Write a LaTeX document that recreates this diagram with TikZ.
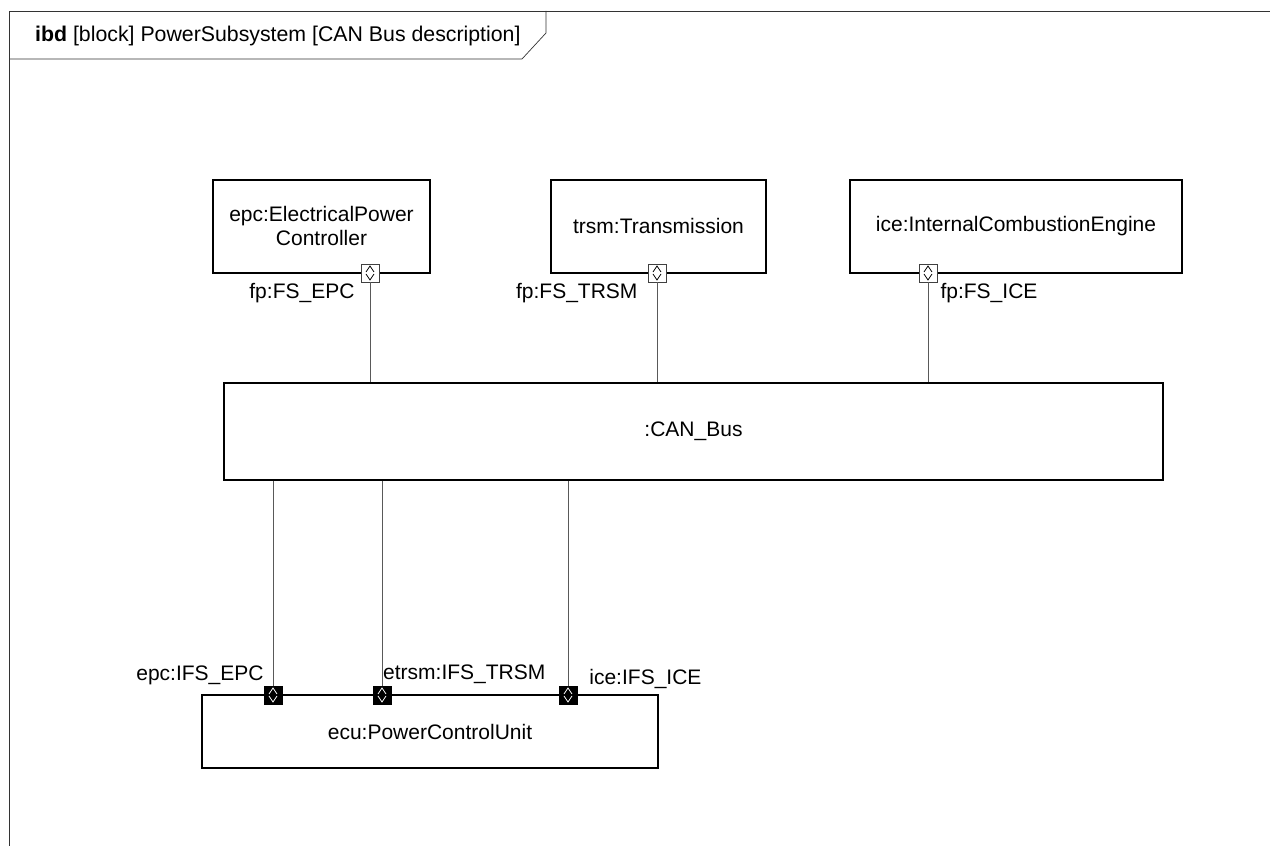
\documentclass[tikz,border=0pt]{standalone}
\usepackage{fontspec}
\setmainfont{Liberation Sans}
\usetikzlibrary{positioning}

\tikzset{
  pchev/.style={path picture={
    \draw[#1,line width=0.8pt] (path picture bounding box.center) ++(-4pt,1pt) -- ++(4pt,6pt) -- ++(4pt,-6pt)
      (path picture bounding box.center) ++(-4pt,-1pt) -- ++(4pt,-6pt) -- ++(4pt,6pt);}},
  fport/.style={draw=black!75,fill=white,line width=0.7pt,minimum size=18pt,inner sep=0pt,pchev=black},
  iport/.style={draw=black,fill=black,minimum size=18pt,inner sep=0pt,pchev=white},
  block/.style={draw,line width=1.3pt,inner sep=0pt,align=center},
  wire/.style={draw=black!65,line width=0.7pt},
  lbl/.style={inner sep=0pt}
}

\begin{document}
\begin{tikzpicture}[x=1pt,y=1pt,font=\fontsize{21}{24}\selectfont]
\useasboundingbox (0,0) rectangle (1270,846);
% frame and heading
\draw[black!80,line width=0.7pt] (9,0) -- (9,835) -- (1270,835);
\draw[black!80,line width=0.7pt] (9,787) -- (522,787) -- (546,813) -- (546,835);
\node[anchor=base west,inner sep=0pt,font=\fontsize{21.3}{24}\selectfont] (title) at (35,804) {\textbf{ibd} [block] PowerSubsystem [CAN Bus description]};
% parts
\node[block,minimum width=217,minimum height=93] (epc) at (321.5,619.5) {epc:ElectricalPower\\Controller};
\node[block,minimum width=215,minimum height=93] (trsm) at (658.5,619.5) {trsm:Transmission};
\node[block,minimum width=332,minimum height=93] (ice) at (1016,619.5) {ice:InternalCombustionEngine};
\node[block,minimum width=939,minimum height=97] (bus) at (693.5,414.5) {:CAN\_Bus};
\node[block,minimum width=456,minimum height=73] (ecu) at (430,114.5) {ecu:PowerControlUnit};
% ports
\node[fport] (pe) at (370,573) {};
\node[fport] (pt) at (657,573) {};
\node[fport] (pi) at (928,573) {};
\node[iport] (qe) at (273,151) {};
\node[iport] (qt) at (382,151) {};
\node[iport] (qi) at (568,151) {};
% connectors
\foreach \p in {pe,pt,pi}
  {\draw[wire] (\p.south) -- (\p.south |- bus.north);}
\foreach \q in {qe,qt,qi}
  {\draw[wire] (bus.south -| \q.north) -- (\q.north);}
% port labels
\node[lbl,below left=1pt and 6pt of pe.south west] (lpe) {fp:FS\_EPC};
\node[lbl,below left=1pt and 10pt of pt.south west] (lpt) {fp:FS\_TRSM};
\node[lbl,below right=1pt and 3pt of pi.south east] (lpi) {fp:FS\_ICE};
\node[lbl,above left=1pt and 0pt of qe.north west] (lqe) {epc:IFS\_EPC};
\node[lbl,above right=2pt and 1pt of qt.north] (lqt) {etrsm:IFS\_TRSM};
\node[lbl,above right=-3pt and 12pt of qi.north east] (lqi) {ice:IFS\_ICE};
\end{tikzpicture}
\end{document}
